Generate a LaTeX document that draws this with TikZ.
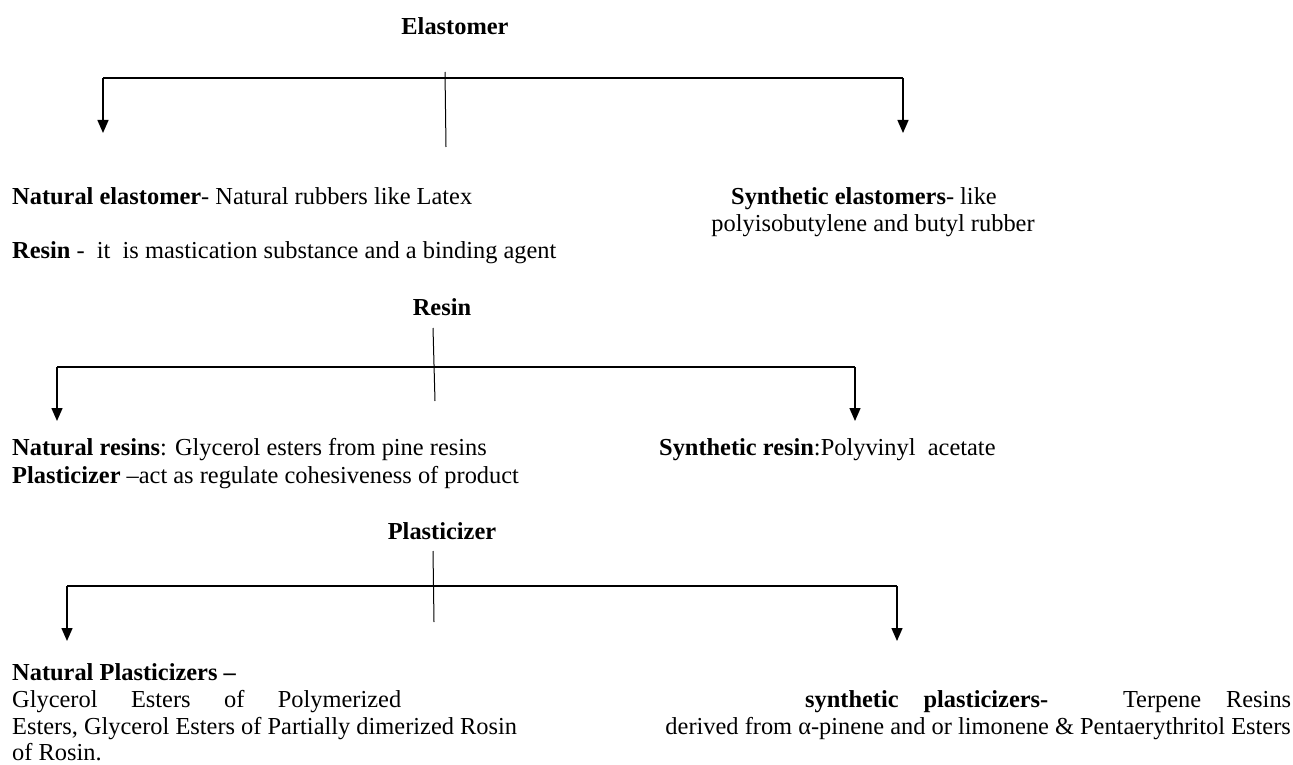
\documentclass[tikz,border=0pt]{standalone}
\usepackage{fontspec}
\setmainfont{Liberation Serif}
\usetikzlibrary{arrows.meta}
\begin{document}
\begin{tikzpicture}[x=1pt,y=-1pt,
  txt/.style={anchor=base west,inner sep=0pt,font=\fontsize{24.4}{28}\selectfont},
  ctr/.style={anchor=base,inner sep=0pt,font=\fontsize{24.4}{28}\selectfont\bfseries},
  ln/.style={line width=1.4pt,black},
  arr/.style={ln,-{Triangle[width=11pt,length=13pt]}},
  stub/.style={line width=1pt,black}]
\useasboundingbox (0,0) rectangle (1293,765);
% Elastomer
\node[ctr] (el) at (455,35) {Elastomer};
\coordinate (elL) at (103,78);
\coordinate (elR) at (903,78);
\coordinate (els1) at (445,72);
\coordinate (els2) at (446,147);
\node[txt] (ne) at (12,204) {\textbf{Natural elastomer}- Natural rubbers like Latex};
\node[txt] (rs) at (12,258) {\textbf{Resin} -\ \ it\ \ is mastication\ substance and a binding agent};
\node[txt,anchor=base] (se1) at (864,204) {\textbf{Synthetic elastomers}- like};
\node[txt,anchor=base] (se2) at (873,231) {polyisobutylene and butyl rubber};
\draw[stub] (els1) -- (els2);
\draw[ln] (elL) -- (elR);
\draw[arr] (elL) -- (103,133);
\draw[arr] (elR) -- (903,133);
% Resin
\node[ctr] (re) at (442,315) {Resin};
\coordinate (reL) at (57,367);
\coordinate (reR) at (855,367);
\coordinate (res1) at (433,328);
\coordinate (res2) at (435,401);
\node[txt] (nr) at (12,455) {\textbf{Natural resins}: Glycerol esters from pine resins};
\node[txt] (pl) at (12,483) {\textbf{Plasticizer} --act as regulate cohesiveness\ of product};
\node[txt] (sr) at (659,455) {\textbf{Synthetic resin}:Polyvinyl\ \ acetate};
\draw[stub] (res1) -- (res2);
\draw[ln] (reL) -- (reR);
\draw[arr] (reL) -- (57,421);
\draw[arr] (reR) -- (855,421);
% Plasticizer
\node[ctr] (pz) at (442,539) {Plasticizer};
\coordinate (pzL) at (67,586);
\coordinate (pzR) at (897,586);
\coordinate (pzs1) at (433,551);
\coordinate (pzs2) at (434,622);
\node[txt] (np1) at (12,680) {\textbf{Natural Plasticizers --}};
\node[txt] (np2) at (12,707) {\makebox[389pt][s]{Glycerol Esters of Polymerized}};
\node[txt] (np3) at (12,734) {Esters, Glycerol Esters of Partially dimerized Rosin};
\node[txt] (np4) at (12,760) {of Rosin.};
\node[txt] (sp1) at (805,707) {\makebox[486pt][s]{\textbf{synthetic}\ \textbf{plasticizers-}\ \ \ Terpene\ Resins}};
\node[txt,anchor=base east] (sp2) at (1291,734) {derived from α-pinene and or limonene \& Pentaerythritol Esters};
\draw[stub] (pzs1) -- (pzs2);
\draw[ln] (pzL) -- (pzR);
\draw[arr] (pzL) -- (67,641);
\draw[arr] (pzR) -- (897,641);
\end{tikzpicture}
\end{document}
